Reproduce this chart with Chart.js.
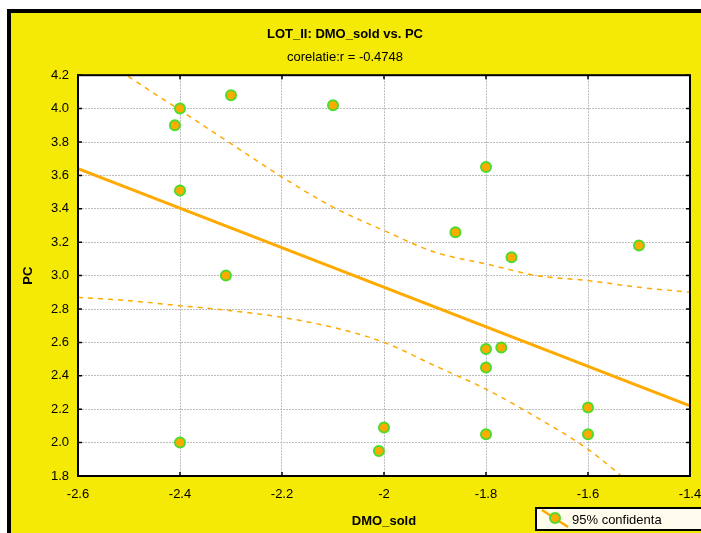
<!DOCTYPE html>
<html>
<head>
<meta charset="utf-8">
<title>LOT_II: DMO_sold vs. PC</title>
<script src="https://cdn.jsdelivr.net/npm/chart.js@4/dist/chart.umd.min.js"></script>
<style>
  html, body { margin: 0; padding: 0; background: #ffffff; overflow: hidden; }
  #wrap { position: absolute; left: 0; top: 0; width: 716px; height: 533px; }
</style>
</head>
<body>
<div id="wrap"><canvas id="scatterChart" width="716" height="533"></canvas></div>
<script>
// --- data ---
const dmoSold = [-2.4, -2.41, -2.3, -2.1, -2.4, -2.31, -1.8, -1.86, -1.75, -1.5,
                 -1.8, -1.77, -1.8, -1.6, -1.6, -1.8, -2.0, -2.01, -2.4];
const pcValues = [4.0, 3.9, 4.08, 4.02, 3.51, 3.0, 3.65, 3.26, 3.11, 3.18,
                  2.56, 2.57, 2.45, 2.21, 2.05, 2.05, 2.09, 1.95, 2.0];

// regression line end points
const fitX = [-2.6, -1.4];
const fitY = [3.64, 2.22];

// 95% confidence band
const bandX = [-2.6, -2.5, -2.4, -2.3, -2.2, -2.1, -2.0, -1.9, -1.8, -1.7, -1.6, -1.5, -1.4];
const upperBand = [4.39, 4.19, 3.99, 3.79, 3.59, 3.41, 3.27, 3.14, 3.07, 3.00, 2.97, 2.93, 2.90];
const lowerBand = [2.87, 2.85, 2.82, 2.79, 2.75, 2.69, 2.60, 2.46, 2.32, 2.15, 1.96, 1.71, 1.45];

const xTicks = [-2.6, -2.4, -2.2, -2.0, -1.8, -1.6, -1.4];
const yTicks = [1.8, 2.0, 2.2, 2.4, 2.6, 2.8, 3.0, 3.2, 3.4, 3.6, 3.8, 4.0, 4.2];

const FONT = "'Liberation Sans', Arial, sans-serif";
const YELLOW = '#f5e906';
const ORANGE = '#ffaa00';
const GREEN = '#4cdc2c';

const toPoints = (xs, ys) => xs.map((x, i) => ({ x: x, y: ys[i] }));

// yellow frame, white plot area, inner ticks and the legend box
const framePlugin = {
    id: 'frame',
    beforeDraw(chart) {
        const { ctx, chartArea: a, width, height } = chart;
        ctx.save();
        ctx.fillStyle = '#ffffff';
        ctx.fillRect(0, 0, width, height);
        ctx.fillStyle = '#000000';
        ctx.fillRect(7, 9, width, height);
        ctx.fillStyle = YELLOW;
        ctx.fillRect(11, 13, width, height);
        ctx.fillStyle = '#ffffff';
        ctx.fillRect(a.left, a.top, a.right - a.left, a.bottom - a.top);
        ctx.restore();
    },
    afterDraw(chart) {
        const { ctx, chartArea: a } = chart;
        const xs = chart.scales.x, ys = chart.scales.y;
        ctx.save();
        ctx.strokeStyle = '#000000';
        ctx.lineWidth = 1.5;
        ctx.beginPath();
        xTicks.forEach(v => {
            const px = xs.getPixelForValue(v);
            ctx.moveTo(px, a.bottom); ctx.lineTo(px, a.bottom - 4);
            ctx.moveTo(px, a.top); ctx.lineTo(px, a.top + 4);
        });
        yTicks.forEach(v => {
            const py = ys.getPixelForValue(v);
            ctx.moveTo(a.left, py); ctx.lineTo(a.left + 4, py);
            ctx.moveTo(a.right, py); ctx.lineTo(a.right - 4, py);
        });
        ctx.stroke();
        ctx.lineWidth = 2;
        ctx.strokeRect(a.left, a.top, a.right - a.left, a.bottom - a.top);

        // legend
        ctx.fillStyle = '#fffcee';
        ctx.fillRect(536, 508, 200, 22);
        ctx.strokeRect(536, 508, 200, 22);
        ctx.strokeStyle = ORANGE;
        ctx.lineWidth = 2.5;
        ctx.beginPath();
        ctx.moveTo(542, 510);
        ctx.lineTo(568, 527);
        ctx.stroke();
        ctx.beginPath();
        ctx.arc(555, 518, 5, 0, Math.PI * 2);
        ctx.fillStyle = ORANGE;
        ctx.fill();
        ctx.strokeStyle = GREEN;
        ctx.lineWidth = 2;
        ctx.stroke();
        ctx.fillStyle = '#000000';
        ctx.font = '13px ' + FONT;
        ctx.textBaseline = 'middle';
        ctx.fillText(chart.data.datasets[0].label, 572, 520);
        ctx.restore();
    }
};

document.addEventListener('DOMContentLoaded', () => {
    const ctx = document.getElementById('scatterChart').getContext('2d');

    new Chart(ctx, {
        type: 'scatter',
        data: {
            datasets: [{
                label: '95% confidenta',
                data: toPoints(dmoSold, pcValues),
                backgroundColor: ORANGE,
                borderColor: GREEN,
                borderWidth: 2,
                pointRadius: 5,
                pointHoverRadius: 5
            }, {
                label: 'fit',
                type: 'line',
                data: toPoints(fitX, fitY),
                borderColor: ORANGE,
                borderWidth: 3,
                pointRadius: 0,
                showLine: true,
                fill: false
            }, {
                label: 'upper',
                type: 'line',
                data: toPoints(bandX, upperBand),
                borderColor: ORANGE,
                borderWidth: 1.5,
                borderDash: [5, 5],
                pointRadius: 0,
                showLine: true,
                cubicInterpolationMode: 'monotone',
                fill: false
            }, {
                label: 'lower',
                type: 'line',
                data: toPoints(bandX, lowerBand),
                borderColor: ORANGE,
                borderWidth: 1.5,
                borderDash: [5, 5],
                pointRadius: 0,
                showLine: true,
                cubicInterpolationMode: 'monotone',
                fill: false
            }]
        },
        options: {
            responsive: false,
            animation: false,
            layout: { padding: { top: 0, left: 0, right: 26, bottom: 0 } },
            plugins: {
                legend: { display: false },
                tooltip: { enabled: false },
                title: {
                    display: true,
                    text: 'LOT_II: DMO_sold vs. PC',
                    color: '#000000',
                    font: { family: FONT, size: 13, weight: 'bold' },
                    padding: { top: 27, bottom: 4 }
                },
                subtitle: {
                    display: true,
                    text: 'corelatie:r = -0.4748',
                    color: '#000000',
                    font: { family: FONT, size: 13 },
                    padding: { top: 3, bottom: 10 }
                }
            },
            scales: {
                x: {
                    type: 'linear',
                    min: -2.6,
                    max: -1.4,
                    afterBuildTicks: (scale) => { scale.ticks = xTicks.map(v => ({ value: v })); },
                    afterFit: (scale) => { scale.height = 57; },
                    ticks: {
                        color: '#000000',
                        font: { family: FONT, size: 13 },
                        padding: 11,
                        maxRotation: 0,
                        callback: (v) => String(Number(v.toFixed(1)))
                    },
                    grid: { color: '#bdbdbd', lineWidth: 1, drawTicks: false },
                    border: { color: '#000000', width: 2, dash: [2, 1] },
                    title: {
                        display: true,
                        text: 'DMO_sold',
                        color: '#000000',
                        font: { family: FONT, size: 13, weight: 'bold' },
                        padding: { top: 4, bottom: 4 }
                    }
                },
                y: {
                    type: 'linear',
                    min: 1.8,
                    max: 4.2,
                    afterBuildTicks: (scale) => { scale.ticks = yTicks.map(v => ({ value: v })); },
                    afterFit: (scale) => { scale.width = 78; },
                    ticks: {
                        color: '#000000',
                        font: { family: FONT, size: 13 },
                        padding: 9,
                        callback: (v) => v.toFixed(1)
                    },
                    grid: { color: '#bdbdbd', lineWidth: 1, drawTicks: false },
                    border: { color: '#000000', width: 2, dash: [2, 1] },
                    title: {
                        display: true,
                        text: 'PC',
                        color: '#000000',
                        font: { family: FONT, size: 13, weight: 'bold' },
                        padding: { top: 21, bottom: 0 }
                    }
                }
            }
        },
        plugins: [framePlugin]
    });
});
</script>
</body>
</html>
